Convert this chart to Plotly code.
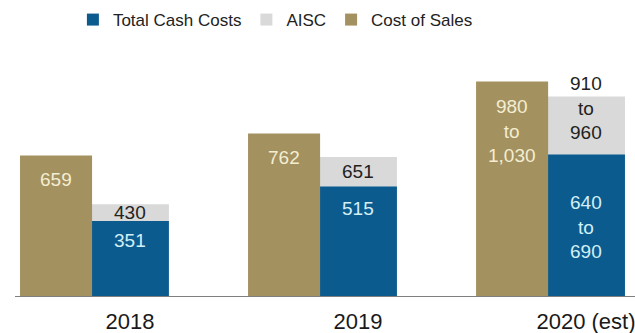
import plotly.graph_objects as go

# ---- data ----
categories = ["2018", "2019", "2020 (est)"]
cost_of_sales = [659, 762, 1005]        # 2020 drawn at midpoint of 980-1,030
aisc = [430, 651, 935]                  # 2020 drawn at midpoint of 910-960
total_cash_costs = [351, 515, 665]      # 2020 drawn at midpoint of 640-690

cos_labels = ["659", "762", "980<br>to<br>1,030"]
aisc_labels = ["430", "651", "910<br>to<br>960"]
tcc_labels = ["351", "515", "640<br>to<br>690"]

# ---- styling ----
FONT = "Liberation Sans, Arial, sans-serif"
C_COS = "#A39160"
C_TCC = "#0C5B8F"
C_AISC = "#D9D9D9"

x = list(range(len(categories)))
cos_off, cos_w = -0.482, 0.316
tcc_off, tcc_w = -0.167, 0.338

fig = go.Figure()

fig.add_trace(go.Bar(
    name="Total Cash Costs", x=x, y=total_cash_costs,
    offset=tcc_off, width=tcc_w, marker=dict(color=C_TCC, line=dict(width=0)),
    hoverinfo="skip",
))
fig.add_trace(go.Bar(
    name="AISC", x=x, y=[a - t for a, t in zip(aisc, total_cash_costs)],
    base=total_cash_costs,
    offset=tcc_off, width=tcc_w, marker=dict(color=C_AISC, line=dict(width=0)),
    hoverinfo="skip",
))
fig.add_trace(go.Bar(
    name="Cost of Sales", x=x, y=cost_of_sales,
    offset=cos_off, width=cos_w, marker=dict(color=C_COS, line=dict(width=0)),
    hoverinfo="skip",
))

annotations = []
cos_shift = [-12, -12, -12]
aisc_shift = [0, 0, 17]
tcc_shift = [-19, -22, -73]
for i in x:
    annotations.append(dict(
        x=i + cos_off + cos_w / 2, y=cost_of_sales[i], xref="x", yref="y",
        text=cos_labels[i], showarrow=False, yanchor="top", yshift=cos_shift[i],
        font=dict(family=FONT, size=19, color="#F4EDD2"),
    ))
    annotations.append(dict(
        x=i + tcc_off + tcc_w / 2, y=(aisc[i] + total_cash_costs[i]) / 2,
        xref="x", yref="y", text=aisc_labels[i], showarrow=False,
        yanchor="middle", yshift=aisc_shift[i],
        font=dict(family=FONT, size=19, color="#222222"),
    ))
    annotations.append(dict(
        x=i + tcc_off + tcc_w / 2, y=total_cash_costs[i], xref="x", yref="y",
        text=tcc_labels[i], showarrow=False, yanchor="middle", yshift=tcc_shift[i],
        font=dict(family=FONT, size=19, color="#D2F0F6"),
    ))

fig.update_layout(
    width=635, height=333,
    margin=dict(l=15, r=0, t=40, b=37),
    barmode="overlay",
    plot_bgcolor="white", paper_bgcolor="white",
    font=dict(family=FONT, color="#222222"),
    showlegend=True,
    legend=dict(
        orientation="h", x=0.42, xanchor="center", y=1.078, yanchor="middle",
        font=dict(family=FONT, size=17, color="#222222"),
        traceorder="normal", bgcolor="rgba(0,0,0,0)",
    ),
    annotations=annotations,
    xaxis=dict(
        range=[-0.504, 2.215], tickvals=x, ticktext=categories,
        showline=True, linecolor="#7F7F7F", linewidth=1,
        showgrid=False, zeroline=False, ticks="",
        tickfont=dict(family=FONT, size=22, color="#1A1A1A"),
        ticklabelstandoff=6, ticklabeloverflow="allow", fixedrange=True,
    ),
    yaxis=dict(
        range=[0, 1200], visible=False, showgrid=False, zeroline=False,
        fixedrange=True,
    ),
)

fig.write_html("out.html")
